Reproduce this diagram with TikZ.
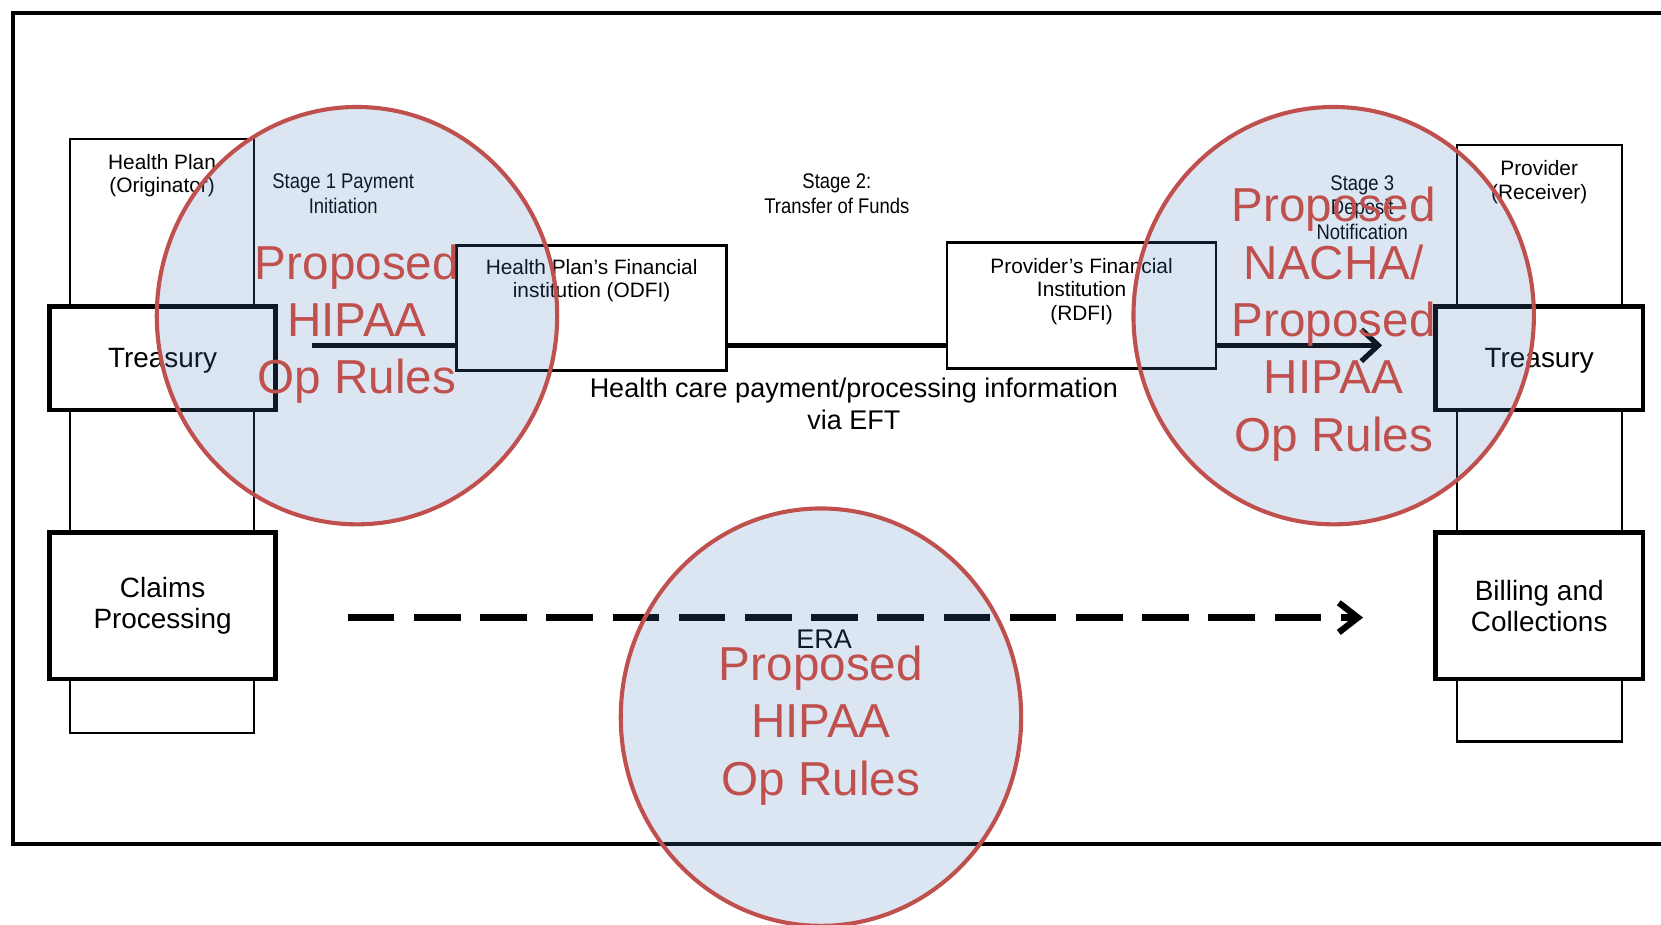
\documentclass[tikz,border=0pt]{standalone}
\usepackage{fontspec}
\setmainfont{Liberation Sans}
\newfontfamily\narrowfont[FakeStretch=0.87]{Liberation Sans}
\usepackage{xcolor}
\usepackage{tikz}
\usetikzlibrary{shapes.geometric, arrows.meta, positioning, calc}

\definecolor{zonered}{HTML}{C0504D}
\definecolor{zoneblue}{HTML}{4F81BD}

\newcommand{\tinyfont}{\fontsize{5.6}{6.3}\selectfont}
\newcommand{\stagefont}{\narrowfont\fontsize{5.7}{6.6}\selectfont}
\newcommand{\boxfont}{\fontsize{7.5}{8.5}\selectfont}
\newcommand{\midfont}{\fontsize{7.25}{8.5}\selectfont}
\newcommand{\zonefont}{\fontsize{12.8}{15.4}\selectfont}

\begin{document}
\begin{tikzpicture}[
    party/.style={rectangle, draw, line width=0.55pt, fill=white, font=\tinyfont, align=center},
    dept/.style={rectangle, draw, line width=1.3pt, fill=white, minimum height=0.98cm, font=\boxfont, align=center},
    bank/.style={rectangle, draw, line width=0.7pt, fill=white, font=\tinyfont, align=center},
    stage/.style={font=\stagefont, align=center},
    link/.style={line width=1.4pt},
    eraline/.style={line width=1.7pt, dash pattern=on 4.4mm off 1.85mm, -{Straight Barb[length=1.8mm, width=2.8mm]}},
    zone/.style={ellipse, draw=zonered, line width=1.1pt, fill=zoneblue, fill opacity=0.2, minimum width=3.78cm, minimum height=3.94cm, inner sep=0pt},
    zonetext/.style={text=zonered, font=\zonefont, align=center, yshift=-0.08cm}
]
    \clip (0,0) rectangle (15.68,-8.73);
    \draw[line width=1.15pt] (16,-0.12) -| (0.12,-7.97) -- (16,-7.97);

    % originator side
    \node[party, minimum width=1.74cm, minimum height=5.61cm,
        label={[party, draw=none, fill=none, anchor=north, yshift=-0.03cm]north:Health Plan\\(Originator)}] (healthplan) at (1.53,-4.115) {};
    \node[dept, minimum width=2.13cm, text depth=0pt] (treasL) at (1.535,-3.38) {Treasury};
    \node[dept, minimum width=2.13cm, minimum height=1.38cm] (claims) at (1.535,-5.72) {Claims\\Processing};

    % receiver side
    \node[party, minimum width=1.56cm, minimum height=5.63cm,
        label={[party, draw=none, fill=none, anchor=north, yshift=-0.03cm]north:Provider\\(Receiver)}] (provider) at (14.53,-4.185) {};
    \node[dept, minimum width=1.96cm, text depth=0pt] (treasR) at (14.53,-3.38) {Treasury};
    \node[dept, minimum width=1.96cm, minimum height=1.38cm] (billing) at (14.53,-5.72) {Billing and\\Collections};

    % banks
    \node[bank, minimum width=2.55cm, minimum height=1.18cm,
        label={[bank, draw=none, fill=none, anchor=north, yshift=-0.01cm]north:Health Plan’s Financial\\institution (ODFI)}] (odfi) at (5.585,-2.91) {};
    \node[bank, minimum width=2.54cm, minimum height=1.19cm,
        label={[bank, draw=none, fill=none, anchor=north, yshift=-0.03cm]north:Provider’s Financial\\Institution\\(RDFI)}] (rdfi) at (10.21,-2.885) {};

    % stages
    \node[stage] (stage1) at (3.24,-1.83) {Stage 1 Payment\\Initiation};
    \node[stage] (stage2) at (7.90,-1.83) {Stage 2:\\Transfer of Funds};
    \node[stage] (stage3) at (12.86,-1.96) {Stage 3\\Deposit\\Notification};

    \coordinate (flow) at (0,-3.26);
    \coordinate (era) at (0,-5.83);
    \draw[link, shorten <=0.32cm] (treasL.east |- flow) -- (odfi.west |- flow);
    \draw[link] (odfi.east |- flow) -- (rdfi.west |- flow);
    \draw[link, -{Straight Barb[length=1.6mm, width=3mm]}, shorten >=0.48cm] (rdfi.east |- flow) -- (treasR.west |- flow);
    \draw[eraline, shorten <=0.66cm, shorten >=0.66cm] (claims.east |- era) -- (billing.west |- era);

    \node[font=\midfont, align=center] (eft) at (8.06,-3.81) {Health care payment/processing information\\via EFT};
    \node[font=\midfont] (eralabel) at (7.78,-6.03) {ERA};

    % proposed rule zones
    \node[zone, label={[zonetext]center:Proposed\\HIPAA\\Op Rules}] (zone1) at (3.37,-2.98) {};
    \node[zone, label={[zonetext]center:Proposed\\NACHA/\\Proposed\\HIPAA\\Op Rules}] (zone3) at (12.59,-2.98) {};
    \node[zone, label={[zonetext]center:Proposed\\HIPAA\\Op Rules}] (zone2) at (7.75,-6.77) {};
\end{tikzpicture}
\end{document}
